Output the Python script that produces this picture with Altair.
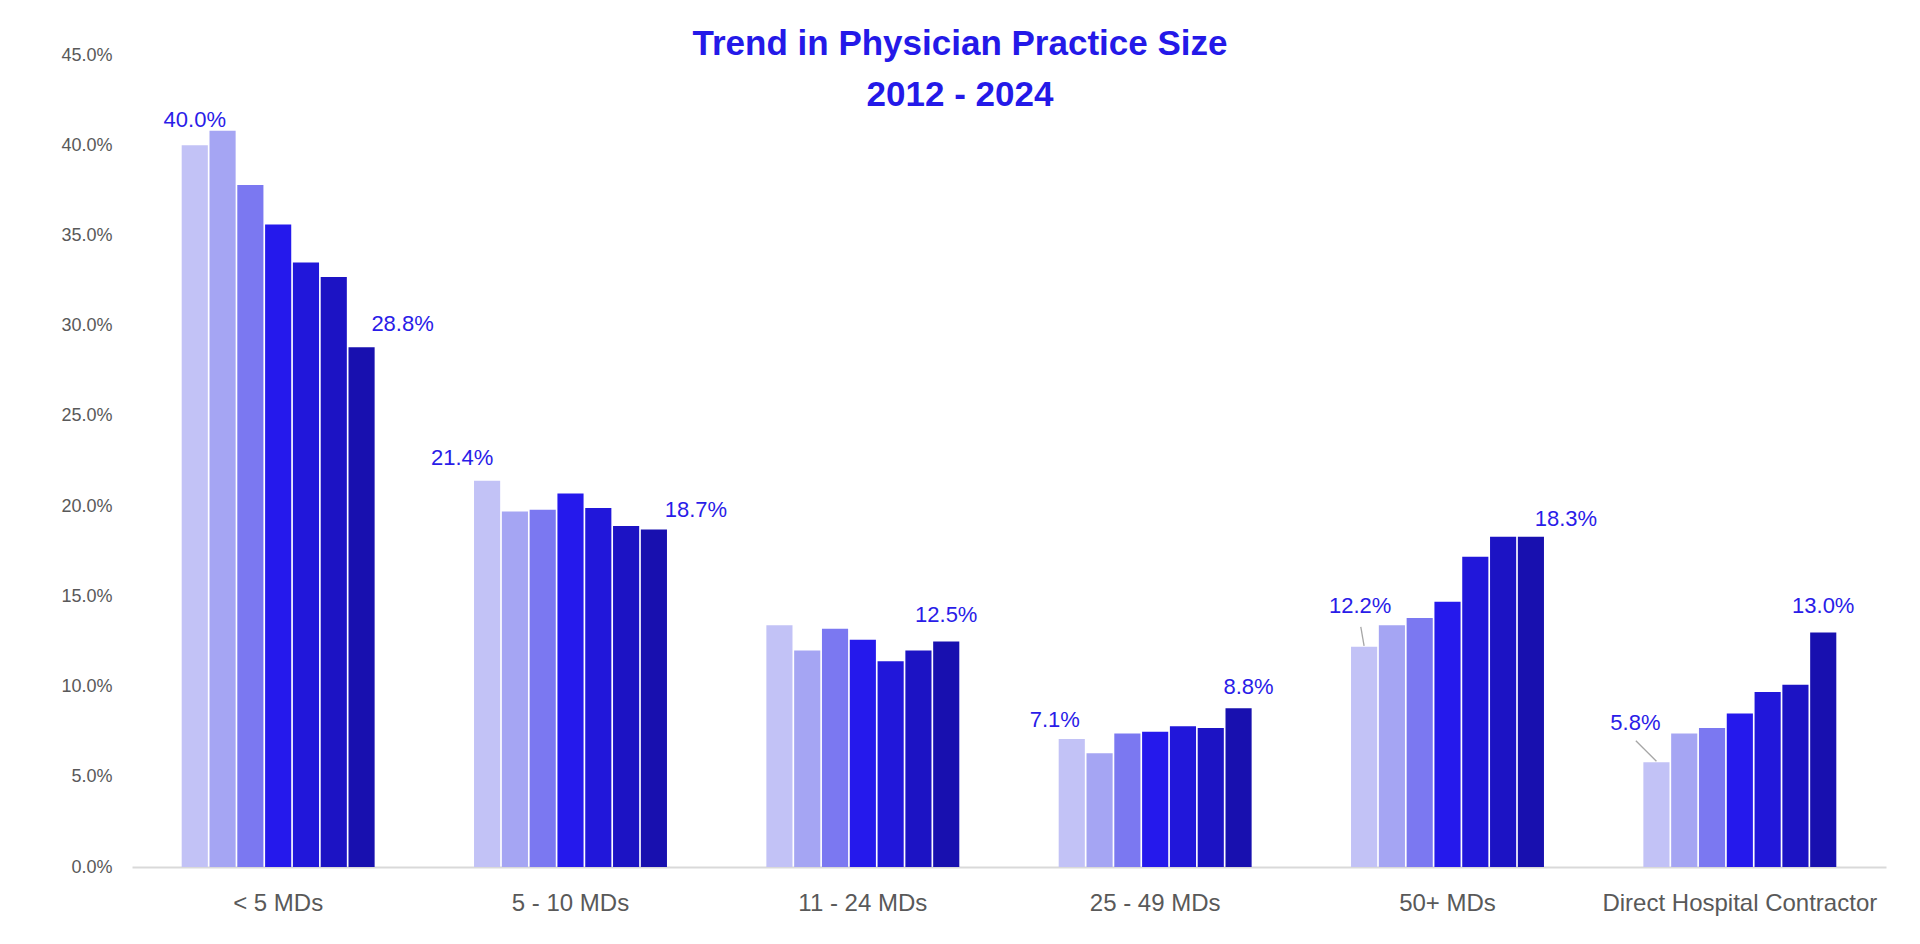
import altair as alt
import pandas as pd

# ---------------- data ----------------
categories = ["< 5 MDs", "5 - 10 MDs", "11 - 24 MDs", "25 - 49 MDs", "50+ MDs",
              "Direct Hospital Contractor"]
years = ["2012", "2014", "2016", "2018", "2020", "2022", "2024"]

lt5 = [40.0, 40.8, 37.8, 35.6, 33.5, 32.7, 28.8]
md5_10 = [21.4, 19.7, 19.8, 20.7, 19.9, 18.9, 18.7]
md11_24 = [13.4, 12.0, 13.2, 12.6, 11.4, 12.0, 12.5]
md25_49 = [7.1, 6.3, 7.4, 7.5, 7.8, 7.7, 8.8]
md50 = [12.2, 13.4, 13.8, 14.7, 17.2, 18.3, 18.3]
dhc = [5.8, 7.4, 7.7, 8.5, 9.7, 10.1, 13.0]

series = [lt5, md5_10, md11_24, md25_49, md50, dhc]

y_ticks = [0.0, 0.05, 0.10, 0.15, 0.20, 0.25, 0.30, 0.35, 0.40, 0.45]

# ---------------- styles ----------------
bar_colors = ["#C2C2F6", "#A5A5F3", "#7B78F1", "#2519EC", "#2117DA", "#1C13C4", "#1810AF"]
label_color = "#2A1CE8"
title_color = "#2419E8"
axis_text = "#595959"
FONT = "Liberation Sans"

# label nudges (dx, dy in px) for the data labels
label_nudge = [
    ("< 5 MDs", "2012", 0, -18),
    ("< 5 MDs", "2024", 41, -16),
    ("5 - 10 MDs", "2012", -25, -16),
    ("5 - 10 MDs", "2024", 42, -13),
    ("11 - 24 MDs", "2024", 0, -19),
    ("25 - 49 MDs", "2012", -17, -12),
    ("25 - 49 MDs", "2024", 10, -14),
    ("50+ MDs", "2012", -4, -34),
    ("50+ MDs", "2024", 35, -11),
    ("Direct Hospital Contractor", "2012", -21, -32),
    ("Direct Hospital Contractor", "2024", 0, -19),
]
# leader lines (custom symbol paths, drawn from the bar top)
leaders = [
    ("50+ MDs", "2012", "M0,-0.05L-0.165,-1", 1600),
    ("Direct Hospital Contractor", "2012", "M0,-0.05L-1,-1.05", 1697),
]

rows = []
for cat, vals in zip(categories, series):
    for yr, v in zip(years, vals):
        rows.append({"category": cat, "year": yr, "value": v / 100.0})
df = pd.DataFrame(rows)

x_enc = alt.X(
    "category:N", sort=categories,
    scale=alt.Scale(paddingInner=0.34, paddingOuter=0.17),
    axis=alt.Axis(title=None, labelAngle=0, labelFontSize=24, labelColor=axis_text,
                  labelFont=FONT, ticks=False, domainColor="#D9D9D9", domainWidth=2,
                  labelPadding=24, labelLimit=500, labelOverlap=False, grid=False),
)
xo_enc = alt.XOffset("year:N", sort=years, scale=alt.Scale(paddingInner=0.06))
y_enc = alt.Y(
    "value:Q",
    scale=alt.Scale(domain=[0, 0.45], nice=False),
    axis=alt.Axis(title=None, format=".1%", values=y_ticks, grid=False, domain=False,
                  ticks=False, tickSize=0, labelFontSize=18, labelColor=axis_text,
                  labelFont=FONT, labelPadding=20),
)

base = alt.Chart(df)

bars = base.mark_bar().encode(
    x=x_enc, xOffset=xo_enc, y=y_enc,
    color=alt.Color("year:N", sort=years,
                    scale=alt.Scale(domain=years, range=bar_colors), legend=None),
)

layers = [bars]
for cat, yr, dx, dy in label_nudge:
    layers.append(
        base.transform_filter(
            (alt.datum.category == cat) & (alt.datum.year == yr)
        ).mark_text(
            dx=dx, dy=dy, align="center", baseline="alphabetic",
            fontSize=22, font=FONT, color=label_color,
        ).encode(
            x=x_enc, xOffset=xo_enc, y=y_enc,
            text=alt.Text("value:Q", format=".1%"),
        )
    )

for cat, yr, path, size in leaders:
    layers.append(
        base.transform_filter(
            (alt.datum.category == cat) & (alt.datum.year == yr)
        ).mark_point(
            shape=path, size=size, filled=False, stroke="#A6A6A6",
            strokeWidth=1.3, opacity=1,
        ).encode(x=x_enc, xOffset=xo_enc, y=y_enc)
    )

chart = alt.layer(*layers).properties(
    width=1754,
    height=812,
    title=alt.TitleParams(
        text=["Trend in Physician Practice Size", "2012 - 2024"],
        fontSize=35, font=FONT, fontWeight="bold", color=title_color,
        anchor="middle", dx=-49, offset=-67, lineHeight=51,
    ),
    padding={"left": 124, "top": 47, "right": 26, "bottom": 60},
    autosize=alt.AutoSizeParams(type="none"),
    background="white",
).configure_view(strokeWidth=0)

chart.save("out.html", embed_options={"renderer": "svg", "actions": False})
